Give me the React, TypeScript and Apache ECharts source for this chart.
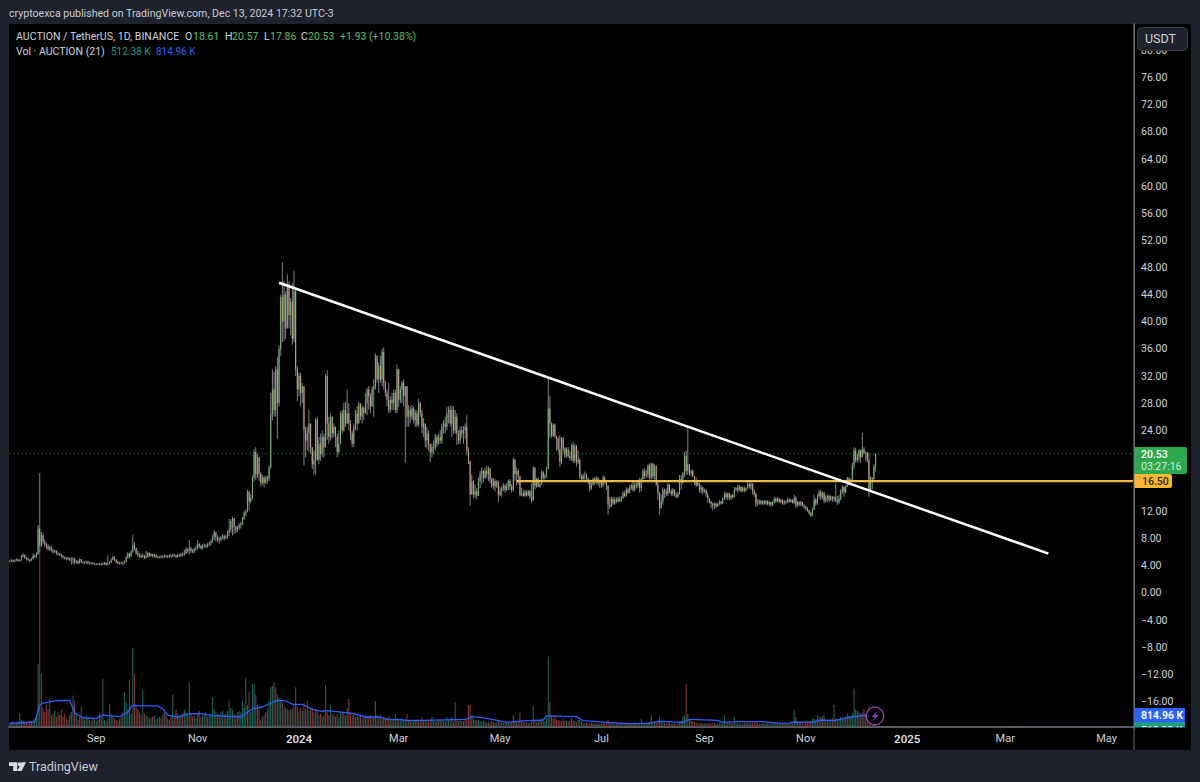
import React, { useEffect, useRef } from "react";
import * as echarts from "echarts";

// Prices, one value per daily bar from 2023-07-11 to 2024-12-13.
const firstOpen = 4.6;
const closes = [
4.7,4.8,4.6,4.8,4.9,4.7,4.8,5.4,5.6,5.2,
5.0,4.9,4.8,5.0,5.5,5.3,5.7,9.5,7.0,8.5,
7.6,7.2,6.9,6.5,6.7,6.3,6.1,6.2,5.9,5.8,
5.6,5.5,5.3,5.2,5.0,5.1,4.9,4.9,5.0,4.6,
4.7,4.4,5.0,4.6,4.5,4.5,4.6,4.4,4.4,4.5,
4.3,4.3,4.3,4.2,4.3,4.2,4.3,4.4,4.2,4.3,
4.5,4.9,5.3,4.9,4.6,4.4,4.4,4.5,4.4,4.6,
5.2,5.8,5.4,6.1,7.1,6.6,5.9,5.7,5.5,5.3,
5.5,5.2,5.4,5.9,5.5,5.7,5.4,5.6,5.3,5.3,
5.3,5.4,5.3,5.5,5.4,5.3,5.5,5.4,5.6,5.5,
5.3,5.6,5.5,5.7,5.6,5.8,6.4,6.2,6.6,6.2,
6.0,6.4,6.6,7.2,6.9,6.6,7.0,7.0,6.8,7.2,
7.3,7.6,8.3,8.9,8.2,7.9,7.8,8.2,8.4,8.1,
8.3,8.9,9.4,10.6,11.0,9.8,9.3,9.6,10,10.2,
10.9,11.8,12.0,15.0,13.5,14,17,20.8,17.5,20,
17.6,16.2,17,16.3,16.9,16.8,18.5,26.5,30,27,
33,28,36,43.6,40,44,39,45.5,41,43,
37.5,44.5,33,30,32,29.5,30.5,24,22.5,23.5,
25,21.5,19,19.5,25.5,19.7,22,20.5,23,21.5,
32,25,23,26,23.5,24.5,23,20.8,22,26.5,
24,27,25,26.5,25,23.5,22,24.5,26.5,25,
27.8,26,27.3,26.5,28,30,29,27.5,30,30.5,
35,31.5,33.5,31.5,35.5,31,29.5,28.5,27,28.5,
28,29.5,27,33,28.5,30,31,29,30.5,26,
27,26,27.2,25.5,26.5,24.8,28,26.5,24.5,25,
22.5,23.5,22,20.7,21.5,21.5,23,22,23,22.5,
24.5,25,24.5,26.5,27,25,27,24,26,23.5,
22.5,24,23.5,24,24.5,21,19.5,14.5,16.5,14.5,
15,14.3,16.5,17.5,18,17,18,17.5,18.4,16.8,
15.8,16.5,15.7,16.4,14.5,15,15.5,15.8,15.2,15.8,
16.5,15.7,15.2,19.7,17.5,18,17.2,14.5,14.7,14.3,
14.9,14.4,15,14.2,13.6,18.4,15.8,16.8,15.7,16,
17.8,17,17.2,18.3,27.2,25,23.2,24.8,23.2,22.7,
21.2,19.3,22.8,21.3,20.3,21.2,20.2,19.9,21.8,19.5,
21.7,19.3,19.6,17.2,16.8,17.3,17.4,16.9,16.6,15.4,
16,16.8,16.5,17,16.2,16.5,15.9,17,16.5,15.8,
13,12.7,13.9,13.2,13.8,13.5,13.9,13.6,14,14.7,
14.3,15.3,14.8,15.5,15.9,15.2,16,15.8,16.3,15.5,
16.8,18,17.3,17.5,18.8,17,19,17.2,18.7,16,
14.8,12.5,13.5,15.2,15,14.6,16,15,14.6,15.2,
14.5,14.2,14.6,16.8,16.5,17.6,20.2,18,19,17.6,
18,17.2,16.6,15.9,16.2,15.2,15.6,14.9,15.1,14.5,
14,13.5,13.2,12.9,13.2,12.8,13.1,13.5,13.2,13.9,
14.6,14.1,14.7,14,14.4,14.1,15.3,15.5,15.2,15.7,
15,15.5,15.1,15.4,16,15.7,16.1,15,14.6,13.2,
13.2,13.6,13.2,13.5,13.2,13.6,13.1,13.4,13,13.3,
13.9,13.5,13.9,13.4,13.7,13.2,13.5,13.4,13.8,13.4,
13.7,13.3,14,12.9,13.4,13,13.4,12.9,12.7,12.5,
12.2,11.8,11.4,12.3,13.8,13.2,14.3,14.9,14.2,14.7,
13.6,14.1,14.3,13.7,14.2,13.9,14.1,13.6,13.4,13.9,
15,15.6,14.9,15.7,16.9,16.2,16.6,18.8,21,19.6,
20,21,20,21.2,20.6,20.7,19.6,15.2,17,16.8,
18.61,20.53,
];
const highs = [
4.9,5.0,4.9,5.0,5.1,5.0,5.0,5.6,5.9,5.7,
5.3,5.2,5.0,5.2,5.8,5.7,6.0,10,17.7,9.0,
8.8,7.9,7.4,7.2,7.0,6.9,6.5,6.4,6.3,6.1,
5.9,5.8,5.6,5.4,5.3,5.3,5.2,5.3,5.3,5.2,
4.9,4.8,5.1,5.0,4.7,4.7,4.8,4.7,4.6,4.6,
4.5,4.4,4.4,4.4,4.4,4.4,4.5,4.6,4.5,5.6,
4.7,5.1,5.5,5.4,5.0,4.7,4.6,4.6,4.6,4.8,
5.4,6.0,5.9,6.3,8.6,7.5,6.7,6.2,5.9,5.7,
5.8,5.6,6.2,6.0,6.0,5.9,5.8,5.8,5.7,5.5,
5.5,5.6,5.5,5.7,5.6,5.6,5.7,5.7,5.8,5.8,
5.6,5.8,5.8,5.9,6.0,6.4,6.7,6.6,7.8,6.8,
6.5,6.7,7.0,7.8,7.4,7.1,7.2,7.3,7.2,7.4,
7.6,7.9,8.6,9.3,9.0,8.5,8.3,8.4,8.7,8.6,
8.6,9.2,10.9,10.9,11.2,11,9.9,9.9,10.3,10.5,
11.2,12.1,12.3,15.2,15,14.6,17.3,21.2,21.5,20.5,
20,17.8,17.4,17.2,17.3,17.3,18.8,29.5,33,32.7,
33.5,34.8,36.5,44,48.8,46,44.5,47,46,43.5,
45.7,47.5,45,33.5,32.5,32.5,31,29,24.5,24.5,
27,24,21,21,25.8,26,23,23.5,24,23.5,
32.3,32.8,26,26.5,25,25,24.5,23.5,24,26.8,
27,28,28.2,30,28,25.5,24,25,27,27.5,
28.2,28,27.8,27.5,29.5,30.2,30.5,29.5,30.5,31.5,
35.3,34.5,34,35,36,36.2,31.3,30,31,29,
29.5,30,30,33.7,31,30.5,31.3,31.5,30.3,28,
27.7,27.5,27.7,27.5,27,27,28.7,28.2,27,25.8,
25,24.5,24,22,22,22.5,23.5,23.3,23.5,24,
25,25.5,26,27.5,27.5,27.6,27.6,27.5,27,26.5,
24,24.5,24.6,24.6,25,26.2,21.5,19.5,17.5,16.6,
16,15.5,17,18,18.5,18.2,18.5,18.8,18.7,18.4,
17,17,16.8,16.7,16.5,15.7,15.8,16.2,16,16.2,
16.7,16.8,16,20,19.5,18.5,18.3,16.7,15.5,15.2,
15.2,15.2,15.2,15.2,16.2,18.7,18.6,17,17,16.3,
18.1,18,17.6,18.6,31.7,29,25.2,25,25,23.2,
23,23.3,23,23,21.5,21.5,21.5,21,22,22.3,
22,21.8,21,19.9,17.5,17.6,17.9,17.7,17,16.7,
16.3,17,17.1,17.2,17,16.7,16.6,17.4,17.2,16.6,
15.9,14.2,14.2,14.2,14.1,14.1,14.2,14.2,14.3,15,
15.1,15.6,15.5,15.9,16.1,16.4,16.3,16.6,16.7,17,
17,18.3,18.4,18.2,19,19.1,19.2,19.2,19,18.8,
16.7,14.8,14.5,15.6,15.4,15.4,16.2,16,15.3,15.5,
15.3,14.9,14.9,17.4,17.4,17.8,20.8,21,24.5,19,
18.2,18.2,17.1,17,16.5,16,15.9,15.5,15.4,15.3,
14.8,14,13.6,13.3,13.3,13.4,13.3,13.7,13.6,14.1,
14.9,14.9,14.8,14.6,14.5,14.6,15.6,15.6,15.9,15.9,
15.7,15.7,15.7,15.6,16.4,16.2,16.3,16.2,15.3,14.8,
13.8,13.8,13.7,13.7,13.7,13.7,13.6,13.6,13.4,13.5,
14.2,14.1,14.2,14,13.9,13.8,13.7,13.7,14,14,
13.9,13.8,14.5,14.3,13.6,13.5,13.6,13.4,13.1,12.9,
12.7,12.3,12,12.6,14.5,14,14.6,15.2,15.2,15,
14.9,14.4,14.5,14.5,14.4,14.3,14.3,16.2,14.3,14.5,
15.3,15.9,15.8,15.9,17.1,17.1,16.9,19.2,21.5,21.4,
20.6,21.2,21.1,23.6,21.5,20.9,20.8,20.7,17.2,17,
19,20.57,
];
const lows = [
4.5,4.6,4.5,4.6,4.7,4.6,4.6,4.8,5.2,5.0,
4.8,4.7,4.5,4.7,4.9,5.1,5.2,5.6,6.0,6.8,
7.2,6.8,6.5,6.2,6.2,6.0,5.8,5.9,5.6,5.5,
5.4,5.2,5.0,4.9,4.8,4.8,4.7,4.2,4.3,4.2,
4.3,4.2,4.3,4.4,4.3,4.3,4.3,4.2,4.2,4.2,
4.2,4.1,4.1,4.1,4.1,4.0,4.1,4.1,4.0,4.1,
4.2,4.4,4.8,4.7,4.4,4.2,4.2,4.2,4.1,4.3,
4.5,5.0,5.1,5.3,5.9,6.3,5.6,5.3,5.1,5.1,
5.2,5.0,5.1,5.2,5.3,5.3,5.2,5.2,5.1,5.1,
5.1,5.1,5.1,5.2,5.2,5.1,5.2,5.2,5.3,5.3,
5.1,5.2,5.3,5.3,5.4,5.5,5.7,5.9,5.7,5.9,
5.8,5.9,6.2,6.4,6.6,6.4,6.4,6.7,6.6,6.7,
6.9,7.0,7.4,7.8,7.6,7.5,7.3,7.6,7.9,7.7,
7.9,8.0,8.4,8.9,8.5,8.7,8.8,9.0,9.3,9.5,
10,10.7,11.3,11.9,12.2,13.2,13.8,16.5,16.7,17,
16.5,15.7,15.9,15.6,16,16.1,16.5,18.3,25.5,26,
26,22.7,27.5,35,37,37.2,37.5,40.7,39,38,
36.6,37,32,28.3,29,27.5,28,18.8,20,21,
20.8,20.5,18.3,17.5,17.4,19.5,19,19.5,20,20,
21.5,22.6,22,22.5,22.8,23,21.5,20,20.5,22,
23.5,23.8,24.5,25,24,22.5,21.5,21.5,24,24,
25.5,25.5,25,25.5,26.5,26.2,27,26.5,27.5,26,
30,31,29.5,31,30.5,30,29,27.5,26.5,26.6,
27,27,26.5,26.5,27.5,28,28,27.5,19.2,24.5,
24.5,25,25.5,25,24.5,24.5,24.5,26,23.5,23,
21.5,21.3,21,19.3,20,20.5,21,21.5,21.8,22,
22,23.5,23.5,24,25,24.5,23,23.5,23.5,21.8,
22,22,22.8,22,22.8,20.3,19,12.8,14.5,14,
14,13.8,14.5,15.5,16,16.3,16.8,17,16.5,16.2,
15.5,15.3,15,15.5,13.4,14.3,14.2,15,14.8,15,
15.2,15.2,14.8,15,16.5,15.8,16,14.2,14.3,14.2,
14.2,14.2,14.3,13.8,13.3,14.8,15.3,15.5,15.6,15.5,
16,16.7,16.7,17,18.2,22.9,22.9,23,22.8,21,
20.7,18.6,19,20.7,19.9,20,19.9,19.5,19.5,19.2,
19.2,18.6,19,16.8,16.4,16.6,16.7,16.7,16,14.9,
15.2,15.8,15.9,16,15.8,15.5,15.5,15.6,16,15.2,
11.5,12.4,12.8,13,13,13.2,13.4,13.4,13.4,13.9,
14.1,14.2,14.6,14.7,15.2,14.9,15,15.4,15.5,14.8,
15,16.6,16.8,17,17,16.7,16.7,16.8,16.7,15.8,
13.7,11.5,12.8,13,14,14.2,14.3,14.7,14.3,14.3,
14.2,14,14,14.5,15.2,16,17.1,17.4,17.4,17.3,
17.3,17.1,15.9,15.6,15.7,14.8,14.7,14.5,14.8,14.1,
13.4,13.2,12.5,12.2,12.4,12.5,12.7,12.9,13,13.1,
13.7,13.8,13.7,13.7,13.7,13.9,14.2,15,14.8,15,
14.8,14.9,14.8,15,15.5,15.4,15.2,14.5,14.2,12.7,
12.8,13,13,13,13,13,12.9,12.8,12.7,12.8,
13.2,13.3,13.4,13.2,13.2,13,13,13.1,13.2,13.3,
13.3,13.2,13.1,12.5,12.7,12.8,12.8,12.7,12.4,12.2,
12,11.5,11.2,11.3,12.2,12.8,13,13.9,13.7,13.8,
13.2,13.3,13.4,13.4,13.6,13.4,13.5,13.3,13,13.1,
13.7,14.6,14.1,14.7,15.6,15.9,15.9,16.4,18.2,19.2,
19.2,19.4,19.2,20.4,20.4,19.4,19.2,14.2,15,15.3,
16.5,17.86,
];
// Volume in thousands of AUCTION.
const volumes = [
300,350,400,280,320,380,900,500,420,350,300,360,450,400,500,600,800,4300,12000,3600,1300,1000,1500,1200,1900,800,900,1100,700,1000,
800,1200,700,900,600,500,800,1000,2150,1800,900,500,700,1350,600,500,800,600,500,400,600,500,400,500,950,700,3300,500,400,600,
1560,900,700,600,500,450,550,700,1000,2400,1700,1200,3200,900,5400,3600,1400,1200,1000,800,2500,900,800,700,600,650,700,800,500,600,
700,600,800,1000,900,600,500,800,2200,700,1200,900,700,800,900,1200,1000,800,3000,900,700,800,600,900,1100,700,800,900,1000,700,
900,800,2000,1200,1000,900,800,1000,1100,800,900,1100,1800,1300,1150,900,800,1000,1100,1000,1800,1300,3300,1500,2400,1000,2900,2900,2200,1500,
1200,500,700,800,1000,1200,1800,2700,2800,3060,2700,2200,2000,1800,1700,1400,1300,1200,1100,1200,1300,1500,2700,1400,1000,1300,1100,1600,1200,1800,
1100,1200,1300,1000,1200,1100,800,900,700,800,2850,1000,800,1500,800,900,700,900,600,900,1000,900,800,1300,1900,1000,800,900,700,800,
700,800,600,700,800,700,650,800,600,700,1770,800,700,800,650,700,600,650,700,600,550,600,880,600,500,550,600,500,550,880,
400,450,350,400,420,450,500,380,680,400,450,420,380,500,680,420,380,400,450,420,500,430,400,680,500,420,680,420,1700,450,
400,450,420,400,500,600,1500,1500,800,600,500,450,500,400,350,400,380,300,350,320,400,350,300,330,500,350,300,280,300,320,
350,300,320,800,450,400,350,1000,450,350,300,320,280,300,350,1430,500,350,400,450,600,450,400,600,4800,1700,800,600,700,500,
500,450,400,550,400,450,350,400,600,450,400,350,500,500,400,300,250,300,280,250,300,280,260,240,250,220,240,300,260,240,
480,300,250,240,220,260,230,250,220,240,280,250,260,240,270,280,300,260,300,280,600,350,280,300,320,300,800,350,300,280,
400,680,350,300,280,260,300,250,240,260,230,220,240,350,400,680,800,2900,880,500,450,400,350,300,280,260,300,250,240,260,
280,250,240,230,250,220,240,280,250,260,800,300,280,260,250,270,680,300,260,280,240,260,280,250,300,260,280,300,260,400,
260,230,220,250,240,260,230,250,220,240,280,250,300,240,260,220,250,230,270,240,250,230,1150,680,300,260,280,240,260,280,
300,350,400,600,550,500,800,700,650,750,800,500,450,500,550,600,1500,600,500,550,700,650,600,700,880,800,750,900,2600,1200,
1100,1000,900,1000,1200,900,800,1400,900,700,800,512,
];
// Volume moving average, vertices: [bar index, thousands].
const volumeMa = [
[0,250],[15,340],[18,1480],[20,1630],[28,1790],[36,1815],[39,950],[44,630],[52,565],[56,815],
[60,750],[66,700],[71,1020],[74,1480],[78,1430],[89,1430],[92,1245],[95,815],[101,680],[108,885],
[114,930],[122,795],[133,700],[139,680],[146,1245],[152,1360],[161,1815],[166,1770],[170,1545],[176,1545],
[182,1200],[188,1070],[191,1110],[207,905],[214,680],[223,680],[227,525],[235,495],[239,455],[249,455],
[275,525],[278,700],[283,660],[291,495],[299,320],[309,410],[321,475],[323,750],[341,700],[345,430],
[360,320],[373,225],[384,240],[390,390],[405,320],[409,525],[426,455],[429,320],[439,360],[453,360],
[463,250],[469,270],[472,340],[483,320],[488,475],[496,430],[504,630],[514,795],[521,815],
];
const trendLine = [[162, 45.75], [625, 5.8]];
const supportLine = [[305, 16.5], [676, 16.5]];
const lastPriceLine = [[0, 20.53], [676, 20.53]];
const hiddenPriceTicks = [-20, 16, 20, 84];
const tickDates = ["2023-09-01","2023-11-01","2024-01-01","2024-03-01","2024-05-01","2024-07-01","2024-09-01","2024-11-01","2025-01-01","2025-03-01","2025-05-01"];
const tickNames = ["Sep","Nov","2024","Mar","May","Jul","Sep","Nov","2025","Mar","May"];
const FONT = "Roboto, 'Noto Sans', sans-serif";

function buildDates(count: number): string[] {
  const out: string[] = [];
  const start = Date.UTC(2023, 6, 11);
  for (let i = 0; i < count; i++) out.push(new Date(start + i * 86400000).toISOString().slice(0, 10));
  return out;
}

const txt = (text: string, x: number, y: number, fill: string, fontSize = 10.5, fontWeight: any = "normal", z = 110) => ({
  type: "text", z, x, y, silent: true,
  style: { text, fill, fontSize, fontWeight, fontFamily: FONT, align: "left", verticalAlign: "middle" },
});
const box = (x: number, y: number, w: number, h: number, fill: string, z = 105, r: any = 0, stroke?: string) => ({
  type: "rect", z, silent: true, shape: { x, y, width: w, height: h, r },
  style: stroke ? { fill, stroke, lineWidth: 1 } : { fill },
});

export default function App() {
  const ref = useRef<HTMLDivElement>(null);
  useEffect(() => {
    const chart = echarts.init(ref.current!, undefined, { renderer: "svg", width: 1200, height: 782 });
    const dates = buildDates(677);
    const tickMap: Record<string, string> = {};
    tickDates.forEach((d, i) => (tickMap[d] = tickNames[i]));
    const candleData = closes.map((c, i) => [i, i === 0 ? firstOpen : closes[i - 1], highs[i], lows[i], c]);
    const volData = volumes.map((v, i) => ({
      value: v,
      itemStyle: { color: closes[i] >= (i === 0 ? firstOpen : closes[i - 1]) ? "#1c655a" : "#8a3634" },
    }));
    const renderCandle = (_p: any, api: any) => {
      const i = api.value(0), o = api.value(1), h = api.value(2), l = api.value(3), c = api.value(4);
      const x = api.coord([i, o])[0];
      const yo = api.coord([i, o])[1], yc = api.coord([i, c])[1];
      const yh = api.coord([i, Math.max(h, o, c)])[1], yl = api.coord([i, Math.min(l, o, c)])[1];
      const top = Math.min(yo, yc);
      return {
        type: "group", silent: true,
        children: [
          { type: "line", shape: { x1: x, y1: yh, x2: x, y2: yl }, style: { stroke: "#8f9196", lineWidth: 0.9 } },
          { type: "rect", shape: { x: x - 0.5, y: top, width: 1, height: Math.max(Math.abs(yo - yc), 0.8) },
            style: { fill: c >= o ? "#74b877" : "#cca283" } },
        ],
      };
    };
    const lineBase = { type: "line", xAxisIndex: 0, yAxisIndex: 0, symbol: "none", silent: true, z: 5 };
    chart.setOption({
      animation: false,
      backgroundColor: "transparent",
      tooltip: { show: false },
      grid: [
        { left: 9, top: 23.5, width: 1125, height: 705 },
        { left: 9, top: 24, width: 1125, height: 703 },
      ],
      xAxis: [
        { type: "category", gridIndex: 0, data: dates, show: false, boundaryGap: true },
        {
          type: "category", gridIndex: 1, data: dates, boundaryGap: true,
          axisLine: { show: true, lineStyle: { color: "#787b86", width: 1.5 } },
          axisTick: { show: false },
          splitLine: { show: false },
          axisLabel: {
            show: true, margin: 6, color: "#d1d4dc", fontFamily: FONT, fontSize: 11,
            interval: (_i: number, v: string) => v in tickMap,
            formatter: (v: string) => {
              const name = tickMap[v] || "";
              return name.startsWith("20") ? `{y|${name}}` : name;
            },
            rich: { y: { fontWeight: 500, fontSize: 11.5, color: "#e6e8ee", fontFamily: FONT } },
          },
        },
      ],
      yAxis: [
        {
          type: "value", gridIndex: 0, position: "right", min: -20, max: 84, interval: 4,
          axisLine: { show: true, lineStyle: { color: "#6f727b", width: 1 } },
          axisTick: { show: false }, splitLine: { show: false },
          axisLabel: {
            margin: 7, color: "#d1d4dc", fontFamily: FONT, fontSize: 10.5, showMinLabel: false, showMaxLabel: false,
            formatter: (v: number) =>
              hiddenPriceTicks.includes(v) ? "" : v < 0 ? "\u2212" + Math.abs(v).toFixed(2) : v.toFixed(2),
          },
        },
        { type: "value", gridIndex: 1, min: 0, max: 47804, show: false, splitLine: { show: false } },
      ],
      series: [
        { type: "bar", xAxisIndex: 1, yAxisIndex: 1, data: volData, barWidth: 1.1, silent: true, z: 1, large: false },
        { type: "line", xAxisIndex: 1, yAxisIndex: 1, data: volumeMa, symbol: "none", silent: true, z: 2,
          lineStyle: { color: "#2962ff", width: 1.3 } },
        { type: "custom", xAxisIndex: 0, yAxisIndex: 0, data: candleData, renderItem: renderCandle, silent: true, z: 3,
          encode: { x: 0, y: [1, 2, 3, 4] } },
        { ...lineBase, data: lastPriceLine, z: 4, lineStyle: { color: "#3f9a5a", width: 1, type: [1, 3] } },
        { ...lineBase, data: supportLine, lineStyle: { color: "#f0b945", width: 2.2 } },
        { ...lineBase, data: trendLine, lineStyle: { color: "#ffffff", width: 2.5 } },
      ],
      graphic: {
        elements: [
          txt("cryptoexca published on TradingView.com, Dec 13, 2024 17:32 UTC-3", 9, 13, "#c8ccd6", 10.6),
          txt("AUCTION / TetherUS, 1D, BINANCE", 16, 36, "#d1d4dc", 10.6),
          txt("O", 185, 36, "#d1d4dc"), txt("18.61", 193, 36, "#5fbf63"),
          txt("H", 225, 36, "#d1d4dc"), txt("20.57", 232, 36, "#5fbf63"),
          txt("L", 264, 36, "#d1d4dc"), txt("17.86", 270, 36, "#5fbf63"),
          txt("C", 301, 36, "#d1d4dc"), txt("20.53", 308, 36, "#5fbf63"),
          txt("+1.93", 340, 36, "#5fbf63"), txt("(+10.38%)", 369, 36, "#5fbf63"),
          txt("Vol \u00b7 AUCTION (21)", 16, 51, "#d1d4dc"),
          txt("512.38 K", 111, 51, "#1f9c88", 10), txt("814.96 K", 156, 51, "#2962ff", 10),
          // USDT button
          box(1137.5, 27.5, 50, 23, "#1e222d", 105, 4, "#363a45"),
          txt("USDT", 1145, 38.5, "#d1d4dc", 12.5),
          // price tags
          box(1134, 447, 53, 27, "#2ea84d", 105, [0, 2, 2, 0]),
          txt("20.53", 1141, 454, "#ffffff", 10.5, 500),
          txt("03:27:16", 1141, 466.5, "#d2ecd9", 10.5),
          box(1134, 474, 38, 14, "#fbb731", 106, [0, 2, 2, 0]),
          txt("16.50", 1142, 481, "#2a2418", 10.5, 500),
          box(1134, 722, 51, 6, "#1f9c88", 105),
          txt("512.38 K", 1141, 730, "#ffffff", 10.5),
          box(1134, 708, 51, 14, "#2962ff", 106),
          txt("814.96 K", 1141, 715, "#ffffff", 10.5, 600),
          box(1135, 727.5, 56, 22.5, "#000000", 111),
          { type: "line", z: 112, silent: true, shape: { x1: 1134, y1: 24, x2: 1134, y2: 750 }, style: { stroke: "#6f727b", lineWidth: 1 } },
          // lightning badge
          { type: "circle", z: 108, silent: true, shape: { cx: 875, cy: 716, r: 8.7 }, style: { fill: "#000000", stroke: "#a13fb5", lineWidth: 1.2 } },
          { type: "polygon", z: 109, silent: true, shape: { points: [[877.4, 710.6], [871.6, 717], [874.6, 717], [873, 721.4], [878.6, 714.8], [875.4, 714.8]] }, style: { fill: "#8f3ba6" } },
          // TradingView logo
          { type: "polygon", z: 110, silent: true, shape: { points: [[9, 762.3], [17.3, 762.3], [17.3, 771], [13.2, 771], [13.2, 766], [9, 766]] }, style: { fill: "#d8dbe2" } },
          { type: "circle", z: 110, silent: true, shape: { cx: 19.6, cy: 764.2 , r: 1.9 }, style: { fill: "#d8dbe2" } },
          { type: "polygon", z: 110, silent: true, shape: { points: [[21.8, 762.3], [26, 762.3], [21.6, 771], [17.2, 771]] }, style: { fill: "#d8dbe2" } },
          txt("TradingView", 29, 766.5, "#c8ccd6", 12.5),
        ],
      },
    });
    return () => chart.dispose();
  }, []);
  return (
    <div style={{ position: "fixed", left: 0, top: 0, width: 1200, height: 782, background: "#1e222d", overflow: "hidden" }}>
      <div style={{ position: "absolute", left: 9, top: 24, width: 1182, height: 726, background: "#000000" }} />
      <div ref={ref} style={{ position: "absolute", left: 0, top: 0, width: 1200, height: 782 }} />
    </div>
  );
}
